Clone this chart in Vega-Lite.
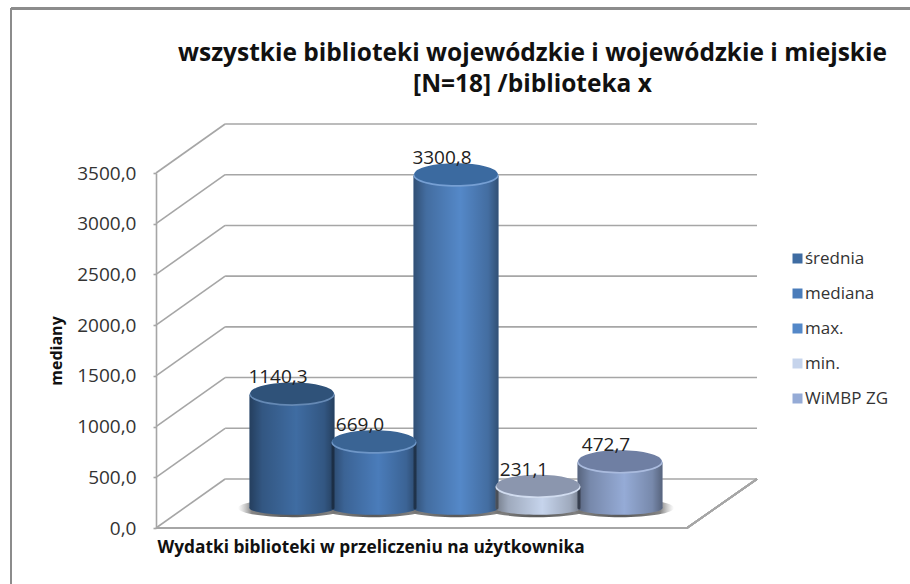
{"$schema":"https://vega.github.io/schema/vega-lite/v6.json","width":601,"height":355,"autosize":{"type":"none"},"padding":{"left":156,"top":173,"right":153,"bottom":56},"background":"white","config":{"view":{"stroke":null},"font":"Open Sans","locale":{"number":{"decimal":",","thousands":"","grouping":[3],"currency":["",""]}},"axisY":{"grid":false,"domain":true,"domainColor":"#a6a6a6","domainWidth":1.6,"tickColor":"#a6a6a6","tickWidth":1.6,"tickSize":3,"labelPadding":17,"labelFont":"Open Sans","labelFontSize":19,"labelColor":"#333","titleFont":"Open Sans","titleFontSize":16,"titleFontWeight":"bold","titleColor":"#111","titleX":-92}},"title":{"text":["wszystkie biblioteki wojewódzkie i wojewódzkie i miejskie","[N=18]  /biblioteka x"],"font":"Open Sans","fontSize":24.5,"fontWeight":"bold","color":"#111","anchor":"middle","dx":76,"offset":-90,"lineHeight":31},"layer":[{"data":{"values":[{"level":0},{"level":500},{"level":1000},{"level":1500},{"level":2000},{"level":2500},{"level":3000},{"level":3500}]},"layer":[{"mark":{"type":"rule","stroke":"#a6a6a6","strokeWidth":1.6,"y2Offset":-49},"encoding":{"x":{"datum":0,"type":"quantitative","scale":{"domain":[0,1],"nice":false},"axis":null},"x2":{"datum":0.115},"y":{"field":"level","type":"quantitative","scale":{"domain":[0,3500],"nice":false},"axis":{"title":"mediany","format":".1f","values":[0,500,1000,1500,2000,2500,3000,3500]}},"y2":{"field":"level"}}},{"mark":{"type":"rule","stroke":"#a6a6a6","strokeWidth":1.6,"yOffset":-49},"encoding":{"x":{"datum":0.115,"type":"quantitative","scale":{"domain":[0,1],"nice":false},"axis":null},"x2":{"datum":1},"y":{"field":"level","type":"quantitative","scale":{"domain":[0,3500],"nice":false},"axis":{"title":"mediany","format":".1f","values":[0,500,1000,1500,2000,2500,3000,3500]}}}},{"mark":{"type":"rule","stroke":"#a6a6a6","strokeWidth":1.6},"encoding":{"x":{"datum":0,"type":"quantitative","scale":{"domain":[0,1],"nice":false},"axis":null},"x2":{"datum":0.8835},"y":{"datum":0,"type":"quantitative","scale":{"domain":[0,3500],"nice":false},"axis":{"title":"mediany","format":".1f","values":[0,500,1000,1500,2000,2500,3000,3500]}}}},{"mark":{"type":"rule","stroke":"#a6a6a6","strokeWidth":1.6,"y2Offset":-49},"encoding":{"x":{"datum":0.8835,"type":"quantitative","scale":{"domain":[0,1],"nice":false},"axis":null},"x2":{"datum":1},"y":{"datum":0,"type":"quantitative","scale":{"domain":[0,3500],"nice":false},"axis":{"title":"mediany","format":".1f","values":[0,500,1000,1500,2000,2500,3000,3500]}},"y2":{"datum":0}}},{"mark":{"type":"rule","stroke":"#8c8c8c","strokeWidth":1.8},"encoding":{"x":{"datum":-0.2413,"type":"quantitative","scale":{"domain":[0,1],"nice":false},"axis":null},"x2":{"datum":1.2562},"y":{"datum":5122,"type":"quantitative","scale":{"domain":[0,3500],"nice":false},"axis":{"title":"mediany","format":".1f","values":[0,500,1000,1500,2000,2500,3000,3500]}}}},{"mark":{"type":"rule","stroke":"#8c8c8c","strokeWidth":1.8},"encoding":{"x":{"datum":-0.2413,"type":"quantitative","scale":{"domain":[0,1],"nice":false},"axis":null},"y":{"datum":5122,"type":"quantitative","scale":{"domain":[0,3500],"nice":false},"axis":{"title":"mediany","format":".1f","values":[0,500,1000,1500,2000,2500,3000,3500]}},"y2":{"datum":-552}}}]},{"data":{"values":[{"serie":"średnia","value":1140.3},{"serie":"mediana","value":669.0},{"serie":"max.","value":3300.8},{"serie":"min.","value":231.1},{"serie":"WiMBP ZG","value":472.7}]},"encoding":{"x":{"field":"serie","type":"nominal","sort":null,"scale":{"type":"point","padding":0,"domain":["średnia","mediana","max.","min.","WiMBP ZG"],"range":[136,464]},"axis":{"title":"Wydatki biblioteki w przeliczeniu na użytkownika","labels":false,"ticks":false,"domain":false,"grid":false,"titleFont":"Open Sans","titleFontSize":17.3,"titleFontWeight":"bold","titleColor":"#111","titleAnchor":"start","titleAlign":"left","titleX":1,"titleY":10}},"y":{"field":"value","type":"quantitative","scale":{"domain":[0,3500],"nice":false},"axis":{"title":"mediany","format":".1f","values":[0,500,1000,1500,2000,2500,3000,3500]}},"color":{"field":"serie","type":"nominal","sort":null,"scale":{"domain":["średnia","mediana","max.","min.","WiMBP ZG"],"range":["#3f6ca2","#4a7cba","#5488c8","#c6d4ec","#95abd6"]},"legend":{"title":null,"orient":"none","legendX":633,"legendY":77,"symbolType":"square","symbolSize":100,"symbolStrokeWidth":0,"symbolOpacity":1,"labelFont":"Open Sans","labelFontSize":17,"labelColor":"#333","labelOffset":-1,"rowPadding":17}}},"layer":[{"mark":{"type":"point","filled":true,"size":11664,"opacity":1,"yOffset":-20,"shape":"M-1,0A1,0.17,0,1,1,1,0A1,0.17,0,1,1,-1,0Z","fill":{"gradient":"radial","x1":0.5,"y1":0.5,"r1":0,"x2":0.5,"y2":0.5,"r2":0.5,"stops":[{"offset":0,"color":"rgba(80,80,80,1)"},{"offset":0.75,"color":"rgba(110,110,110,0.85)"},{"offset":1,"color":"rgba(160,160,160,0)"}]}},"encoding":{"y":{"datum":0,"type":"quantitative","scale":{"domain":[0,3500],"nice":false},"axis":{"title":"mediany","format":".1f","values":[0,500,1000,1500,2000,2500,3000,3500]}},"color":null}},{"mark":{"type":"point","filled":true,"size":7225,"opacity":1,"yOffset":-20,"shape":"M-1,0A1,0.16,0,1,1,1,0A1,0.16,0,1,1,-1,0Z"},"encoding":{"y":{"datum":0,"type":"quantitative","scale":{"domain":[0,3500],"nice":false},"axis":{"title":"mediany","format":".1f","values":[0,500,1000,1500,2000,2500,3000,3500]}}}},{"mark":{"type":"point","filled":true,"size":7225,"opacity":1,"yOffset":-20,"shape":"M-1,0A1,0.16,0,1,1,1,0A1,0.16,0,1,1,-1,0Z","fill":{"gradient":"linear","x1":0,"y1":0,"x2":1,"y2":0,"stops":[{"offset":0,"color":"rgba(0,0,0,0.42)"},{"offset":0.15,"color":"rgba(0,0,0,0.2)"},{"offset":0.55,"color":"rgba(0,0,0,0)"},{"offset":0.88,"color":"rgba(0,0,0,0.2)"},{"offset":1,"color":"rgba(0,0,0,0.42)"}]}},"encoding":{"y":{"datum":0,"type":"quantitative","scale":{"domain":[0,3500],"nice":false},"axis":{"title":"mediany","format":".1f","values":[0,500,1000,1500,2000,2500,3000,3500]}},"color":null}},{"mark":{"type":"bar","size":85,"yOffset":-17.5,"y2Offset":-20},"encoding":{"y2":{"datum":0}}},{"mark":{"type":"bar","size":85,"yOffset":-17.5,"y2Offset":-20,"fill":{"gradient":"linear","x1":0,"y1":0,"x2":1,"y2":0,"stops":[{"offset":0,"color":"rgba(0,0,0,0.42)"},{"offset":0.15,"color":"rgba(0,0,0,0.2)"},{"offset":0.55,"color":"rgba(0,0,0,0)"},{"offset":0.88,"color":"rgba(0,0,0,0.2)"},{"offset":1,"color":"rgba(0,0,0,0.42)"}]}},"encoding":{"y2":{"datum":0},"color":null}},{"mark":{"type":"point","filled":true,"size":7225,"opacity":1,"yOffset":-17.5,"shape":"M-1,0A1,0.26,0,1,1,1,0A1,0.26,0,1,1,-1,0Z"}},{"mark":{"type":"point","filled":true,"size":7225,"opacity":0.2,"fill":"#ffffff","yOffset":-17.5,"shape":"M-1,0A1,0.26,0,1,1,1,0A1,0.26,0,1,1,-1,0Z"},"encoding":{"color":null}},{"mark":{"type":"point","filled":true,"size":6950,"opacity":1,"yOffset":-19,"shape":"M-1,0A1,0.26,0,1,1,1,0A1,0.26,0,1,1,-1,0Z"},"encoding":{"color":null,"fill":{"field":"serie","type":"nominal","sort":null,"legend":null,"scale":{"domain":["średnia","mediana","max.","min.","WiMBP ZG"],"range":["#2f5279","#3a6494","#3b6aa0","#8b96ae","#6f7fa3"]}}}},{"mark":{"type":"text","dx":-14,"dy":-35,"baseline":"middle","align":"center","font":"Open Sans","fontSize":19,"color":"#222"},"encoding":{"color":null,"text":{"field":"value","type":"quantitative","format":".1f"}}}]}],"resolve":{"scale":{"x":"independent"}}}
